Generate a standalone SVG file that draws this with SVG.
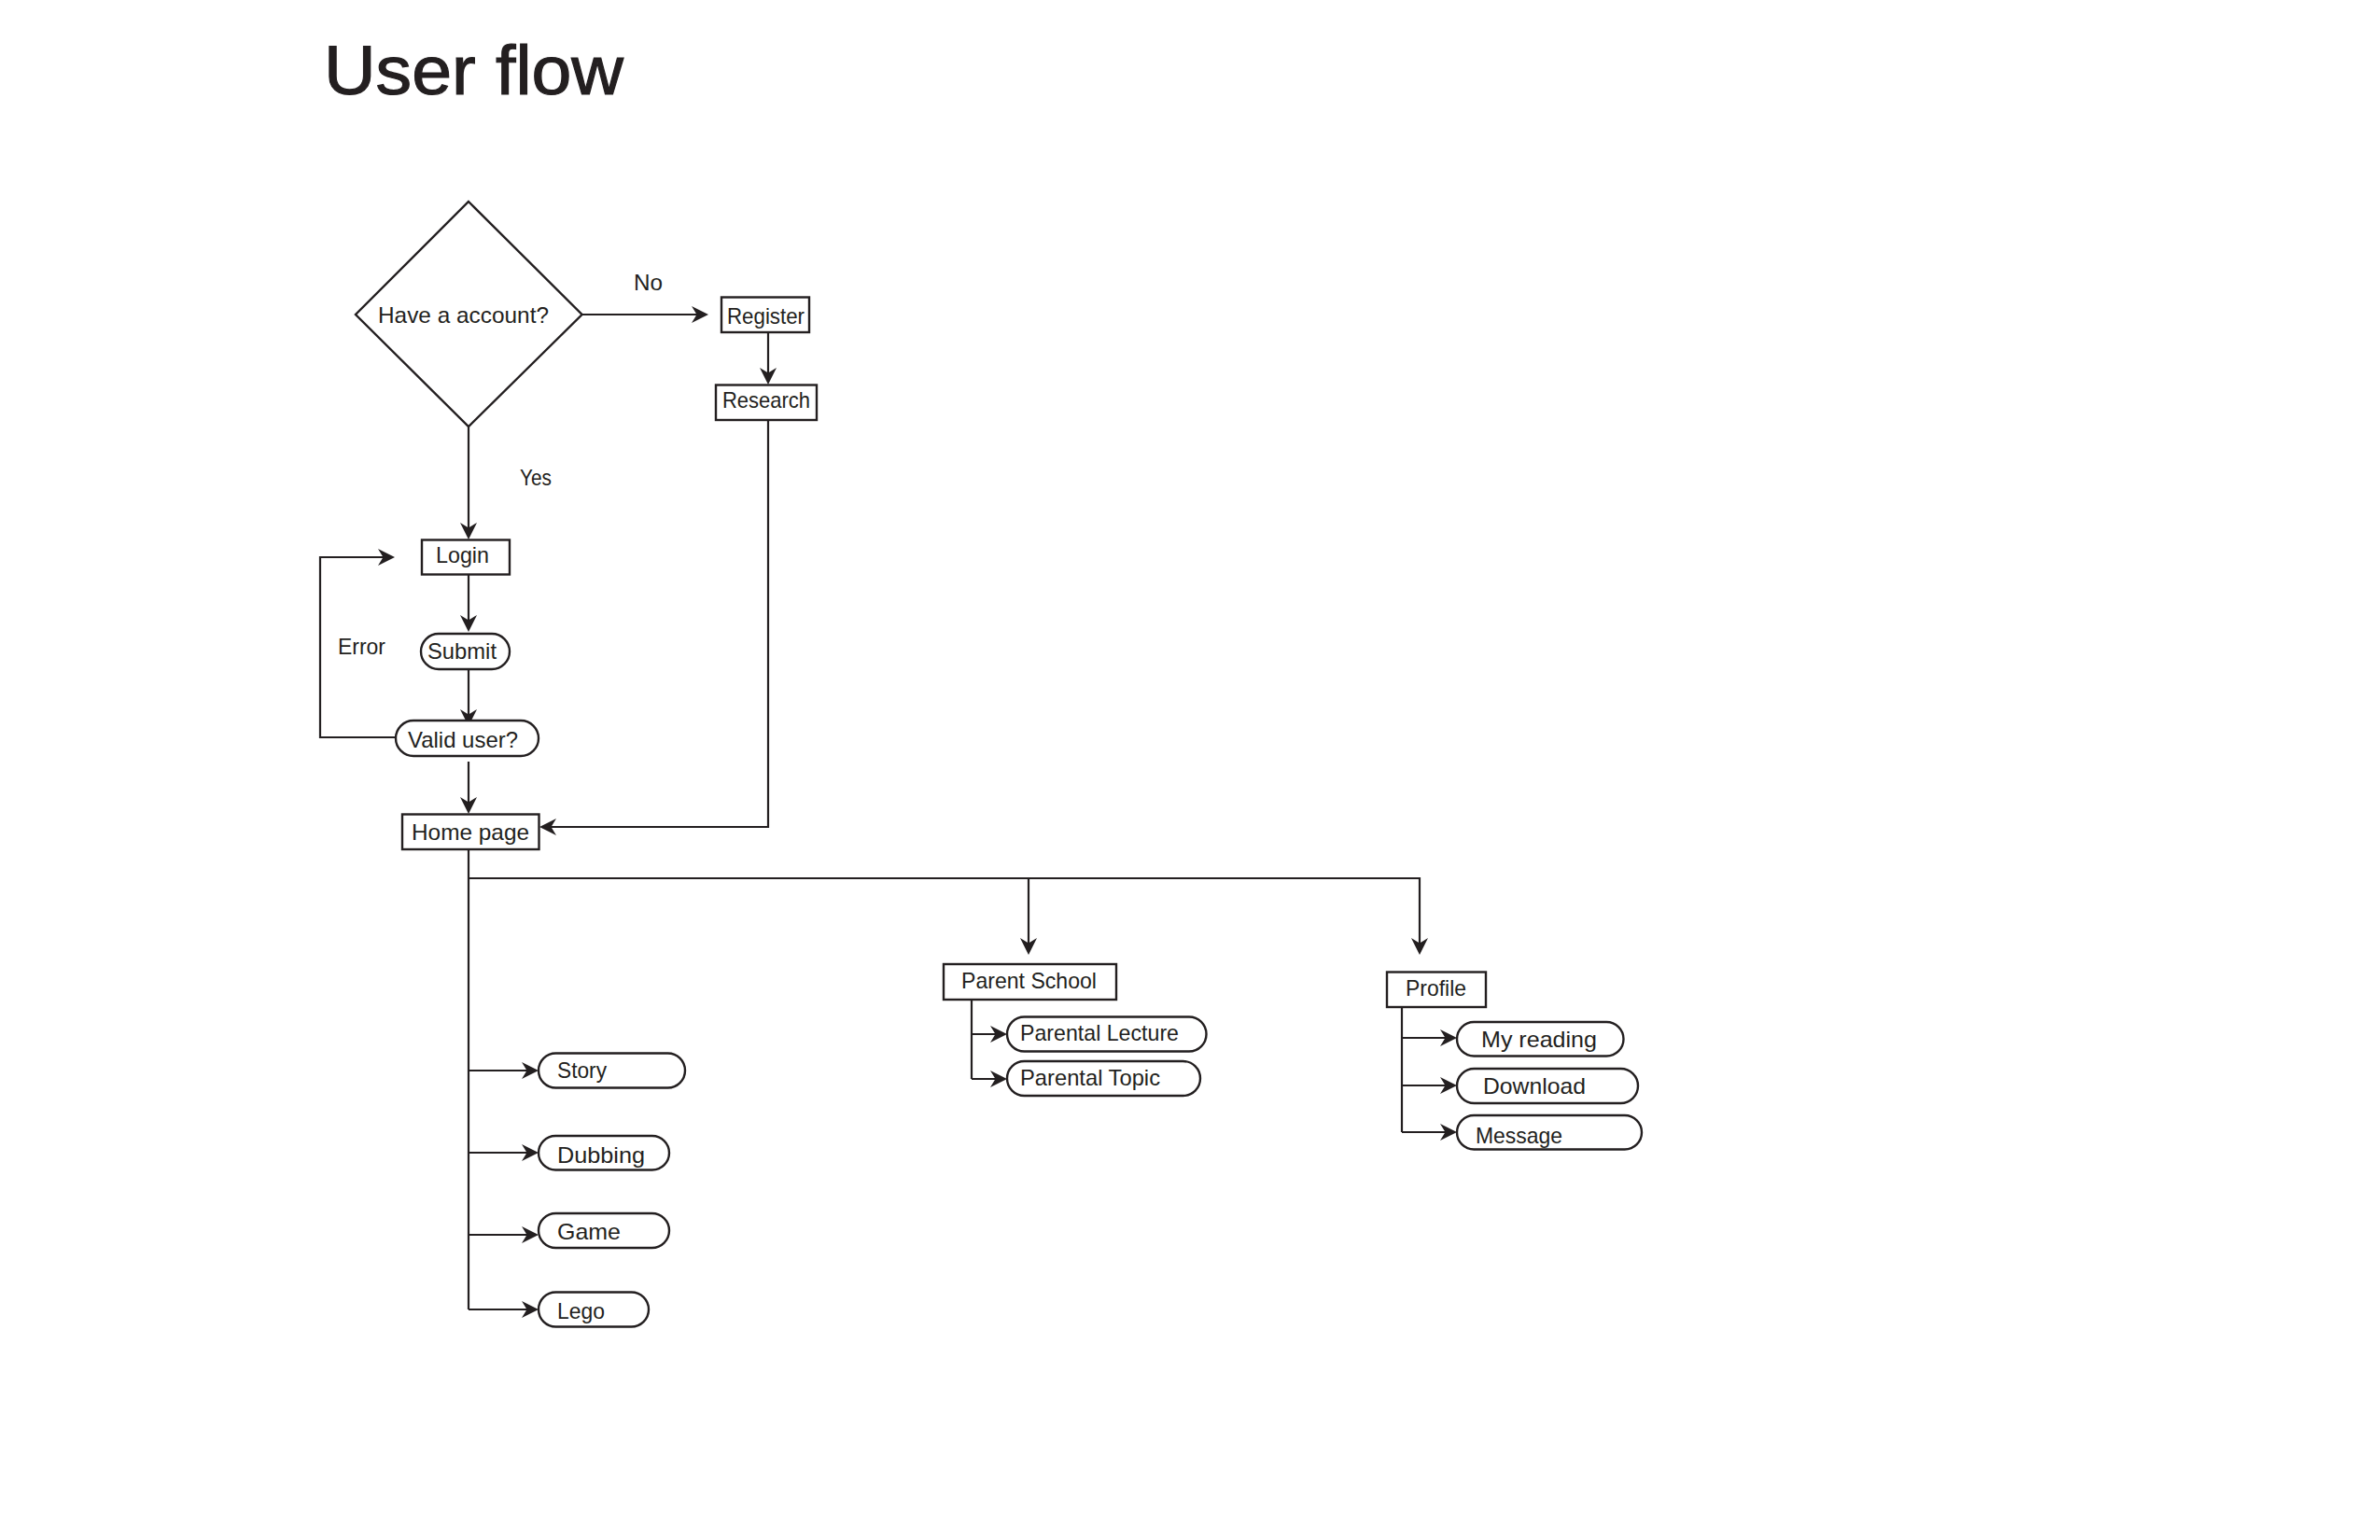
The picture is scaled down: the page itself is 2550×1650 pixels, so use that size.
<svg xmlns="http://www.w3.org/2000/svg" width="2550" height="1650" viewBox="0 0 2550 1650">
<style>
.bg{fill:#ffffff}
.box{fill:#ffffff;stroke:#231f20;stroke-width:2.4}
.lbl{font-family:"Liberation Sans",Arial,sans-serif;font-size:24px;fill:#231f20}
.title{font-family:"Liberation Sans",Arial,sans-serif;font-size:75px;fill:#231f20;stroke:#231f20;stroke-width:1.2}
.con{fill:none;stroke:#231f20;stroke-width:2.2}
.arr{marker-end:url(#ah)}
</style>
<defs>
<marker id="ah" markerUnits="userSpaceOnUse" markerWidth="19" markerHeight="19" refX="14" refY="9.5" orient="auto">
<path d="M18,9.5 L0,0.5 L5.5,9.5 L0,18.5 Z" fill="#231f20"/>
</marker>
</defs>
<rect class="bg" x="0" y="0" width="2550" height="1650"/>
<text class="title" x="347" y="101" textLength="321" lengthAdjust="spacingAndGlyphs">User flow</text>

<g id="connectors">
<path class="con arr" d="M624,337 H755"/>
<path class="con arr" d="M823,356 V408"/>
<path class="con arr" d="M823,450 V886 H582"/>
<path class="con arr" d="M502,457 V574"/>
<path class="con arr" d="M502,616 V673"/>
<path class="con arr" d="M502,717 V774"/>
<path class="con arr" d="M424,790 H343 V597 H419"/>
<path class="con arr" d="M502,816 V868"/>
<path class="con" d="M502,910 V1403"/>
<path class="con arr" d="M502,941 H1521 V1019"/>
<path class="con arr" d="M1102,941 V1019"/>
<path class="con arr" d="M502,1147 H573"/>
<path class="con arr" d="M502,1235 H573"/>
<path class="con arr" d="M502,1323 H573"/>
<path class="con arr" d="M502,1403 H573"/>
<path class="con" d="M1041,1071 V1156"/>
<path class="con arr" d="M1041,1108 H1075"/>
<path class="con arr" d="M1041,1156 H1075"/>
<path class="con" d="M1502,1079 V1213"/>
<path class="con arr" d="M1502,1112 H1557"/>
<path class="con arr" d="M1502,1163 H1557"/>
<path class="con arr" d="M1502,1213 H1557"/>
<text class="lbl" x="679" y="311" textLength="31" lengthAdjust="spacingAndGlyphs">No</text>
<text class="lbl" x="557" y="520" textLength="34" lengthAdjust="spacingAndGlyphs">Yes</text>
<text class="lbl" x="362" y="701" textLength="51" lengthAdjust="spacingAndGlyphs">Error</text>
</g>

<g id="decision-account">
<polygon class="box" points="502,216 623.6,337 502,457 381,337"/>
<text class="lbl" x="405" y="346" textLength="183" lengthAdjust="spacingAndGlyphs">Have a account?</text>
</g>
<g id="register">
<rect class="box" x="773" y="318.5" width="94" height="37.5"/>
<text class="lbl" x="779" y="347" textLength="83" lengthAdjust="spacingAndGlyphs">Register</text>
</g>
<g id="research">
<rect class="box" x="767" y="412.5" width="108" height="37.5"/>
<text class="lbl" x="774" y="437" textLength="94" lengthAdjust="spacingAndGlyphs">Research</text>
</g>
<g id="login">
<rect class="box" x="452" y="578.5" width="94" height="37"/>
<text class="lbl" x="467" y="603" textLength="57" lengthAdjust="spacingAndGlyphs">Login</text>
</g>
<g id="submit">
<rect class="box" x="451" y="679" width="95" height="38" rx="19"/>
<text class="lbl" x="458" y="706" textLength="74" lengthAdjust="spacingAndGlyphs">Submit</text>
</g>
<g id="valid-user">
<rect class="box" x="424" y="772" width="153" height="38" rx="19"/>
<text class="lbl" x="437" y="801" textLength="118" lengthAdjust="spacingAndGlyphs">Valid user?</text>
</g>
<g id="home-page">
<rect class="box" x="431" y="872.5" width="146.5" height="37.5"/>
<text class="lbl" x="441" y="900" textLength="126" lengthAdjust="spacingAndGlyphs">Home page</text>
</g>
<g id="parent-school">
<rect class="box" x="1011" y="1033" width="185" height="38"/>
<text class="lbl" x="1030" y="1059" textLength="145" lengthAdjust="spacingAndGlyphs">Parent School</text>
</g>
<g id="profile">
<rect class="box" x="1486" y="1041.5" width="106" height="37.5"/>
<text class="lbl" x="1506" y="1067" textLength="65" lengthAdjust="spacingAndGlyphs">Profile</text>
</g>
<g id="parental-lecture">
<rect class="box" x="1079" y="1089.5" width="213.5" height="37" rx="18.5"/>
<text class="lbl" x="1093" y="1115" textLength="170" lengthAdjust="spacingAndGlyphs">Parental Lecture</text>
</g>
<g id="parental-topic">
<rect class="box" x="1079" y="1137" width="207" height="37" rx="18.5"/>
<text class="lbl" x="1093" y="1163" textLength="150" lengthAdjust="spacingAndGlyphs">Parental Topic</text>
</g>
<g id="my-reading">
<rect class="box" x="1561" y="1095" width="178.5" height="36.5" rx="18.25"/>
<text class="lbl" x="1587" y="1122" textLength="124" lengthAdjust="spacingAndGlyphs">My reading</text>
</g>
<g id="download">
<rect class="box" x="1561" y="1145" width="194" height="37" rx="18.5"/>
<text class="lbl" x="1589" y="1172" textLength="110" lengthAdjust="spacingAndGlyphs">Download</text>
</g>
<g id="message">
<rect class="box" x="1561" y="1195" width="198" height="36.5" rx="18.25"/>
<text class="lbl" x="1581" y="1225" textLength="93" lengthAdjust="spacingAndGlyphs">Message</text>
</g>
<g id="story">
<rect class="box" x="577" y="1128.5" width="157" height="37" rx="18.5"/>
<text class="lbl" x="597" y="1155" textLength="53" lengthAdjust="spacingAndGlyphs">Story</text>
</g>
<g id="dubbing">
<rect class="box" x="577" y="1217" width="140" height="36.5" rx="18.25"/>
<text class="lbl" x="597" y="1246" textLength="94" lengthAdjust="spacingAndGlyphs">Dubbing</text>
</g>
<g id="game">
<rect class="box" x="577" y="1300" width="140" height="37" rx="18.5"/>
<text class="lbl" x="597" y="1328" textLength="68" lengthAdjust="spacingAndGlyphs">Game</text>
</g>
<g id="lego">
<rect class="box" x="577" y="1384.5" width="118" height="37" rx="18.5"/>
<text class="lbl" x="597" y="1413" textLength="51" lengthAdjust="spacingAndGlyphs">Lego</text>
</g>
</svg>
